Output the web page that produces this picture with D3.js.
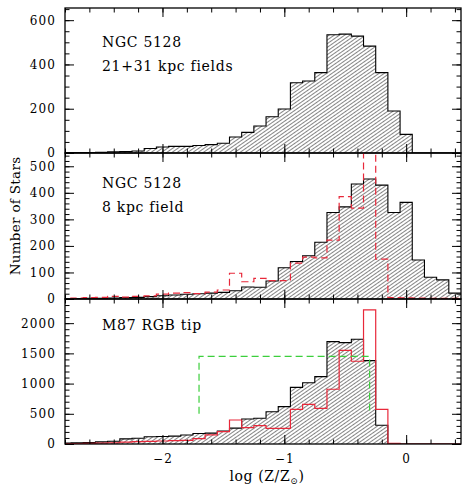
<!DOCTYPE html>
<html>
<head>
<meta charset="utf-8">
<script src="https://cdn.jsdelivr.net/npm/d3@7"></script>
<style>
  body { margin: 0; background: #fff; }
  text { font-family: "DejaVu Serif", serif; }
</style>
</head>
<body>
<svg id="chart" width="462" height="486"></svg>
<script>
// left edges of the 0.1 dex metallicity bins
const binLo = [-2.85, -2.75, -2.65, -2.55, -2.45, -2.35, -2.25, -2.15, -2.05, -1.95,
  -1.85, -1.75, -1.65, -1.55, -1.45, -1.35, -1.25, -1.15, -1.05, -0.95,
  -0.85, -0.75, -0.65, -0.55, -0.45, -0.35, -0.25, -0.15, -0.05, 0.05,
  0.15, 0.25, 0.35];
const binWidth = 0.1;

// NGC 5128, 21+31 kpc fields
const outerFields = [2, 2, 2, 3, 5, 6, 9, 20, 27, 30, 30, 34, 38, 44, 72, 93, 122, 164, 199, 317,
  325, 363, 534, 537, 528, 483, 363, 190, 84, 0, 0, 0, 0];
// NGC 5128, 8 kpc field
const innerField = [1, 2, 3, 3, 4, 5, 6, 9, 12, 15, 18, 20, 22, 25, 31, 45, 44, 68, 118, 141,
  163, 214, 326, 347, 433, 452, 429, 326, 364, 147, 82, 72, 22];
const innerDashed = [2, 3, 5, 6, 10, 7, 10, 12, 18, 22, 24, 20, 26, 34, 97, 65, 78, 69, 69, 135,
  158, 155, 222, 386, 342, 700, 150, 5, 4, 3, 2, 2, 2];
// M87 RGB tip
const m87Stars = [15, 20, 25, 35, 45, 85, 95, 120, 125, 130, 150, 175, 180, 215, 262, 414, 425, 535, 618, 938,
  1015, 1115, 1694, 1678, 1733, 1380, 310, 8, 0, 0, 0, 0, 0];
const m87Red = [5, 8, 10, 15, 20, 30, 40, 45, 50, 55, 60, 90, 150, 205, 397, 270, 303, 259, 259, 574,
  657, 591, 906, 1550, 1370, 2220, 574, 12, 0, 0, 0, 0, 0];
// flat model box
const flatX = [-1.7, -1.7, -0.3, -0.3];
const flatY = [500, 1450, 1450, 500];

const xMajor = [-2, -1, 0];
const p1Major = [0, 200, 400, 600];
const p2Major = [0, 100, 200, 300, 400, 500];
const p3Major = [0, 500, 1000, 1500, 2000];

const svg = d3.select("#chart");
const left = 65, right = 461;
const x = d3.scaleLinear().domain([-2.8, 0.45]).range([left, right]);
const xMinor = d3.range(-2.8, 0.41, 0.2);

// hatch pattern
const defs = svg.append("defs");
const pat = defs.append("pattern")
  .attr("id", "hatch")
  .attr("patternUnits", "userSpaceOnUse")
  .attr("width", 10).attr("height", 3)
  .attr("patternTransform", "rotate(-35)");
pat.append("line")
  .attr("x1", 0).attr("y1", 1.5).attr("x2", 10).attr("y2", 1.5)
  .attr("stroke", "#333").attr("stroke-width", 0.6);

const panels = [
  { top: 8, bottom: 153, ymax: 655, major: p1Major, minor: 50, hist: outerFields,
    labels: ["NGC 5128", "21+31 kpc fields"], labelY: [47, 71] },
  { top: 153, bottom: 299, ymax: 550, major: p2Major, minor: 20, hist: innerField,
    red: innerDashed, dashed: true,
    labels: ["NGC 5128", "8 kpc field"], labelY: [188, 212] },
  { top: 299, bottom: 444, ymax: 2400, major: p3Major, minor: 100, hist: m87Stars,
    red: m87Red, box: true,
    labels: ["M87 RGB tip"], labelY: [330] }
];

function stepPoints(vals) {
  const pts = binLo.map((b, i) => [b, vals[i]]);
  pts.push([binLo[binLo.length - 1] + binWidth, vals[vals.length - 1]]);
  return pts;
}

function styleAxis(g) {
  g.select(".domain").remove();
  g.selectAll(".tick line").attr("stroke", "#000").attr("stroke-width", 1);
  g.selectAll("text").attr("font-family", "DejaVu Serif, serif")
    .attr("font-size", 12).attr("fill", "#000").attr("letter-spacing", 1.1);
}

panels.forEach((p, i) => {
  const y = d3.scaleLinear().domain([0, p.ymax]).range([p.bottom, p.top]);
  const clipId = "clip" + i;
  defs.append("clipPath").attr("id", clipId)
    .append("rect").attr("x", left).attr("y", p.top)
    .attr("width", right - left).attr("height", p.bottom - p.top);

  const g = svg.append("g").attr("clip-path", `url(#${clipId})`);
  const area = d3.area().x(d => x(d[0])).y0(y(0)).y1(d => y(d[1])).curve(d3.curveStepAfter);
  const line = d3.line().x(d => x(d[0])).y(d => y(d[1])).curve(d3.curveStepAfter);

  g.append("path").attr("d", area(stepPoints(p.hist))).attr("fill", "url(#hatch)");
  g.append("path").attr("d", line(stepPoints(p.hist)))
    .attr("fill", "none").attr("stroke", "#000").attr("stroke-width", 1.1);

  if (p.red) {
    g.append("path").attr("d", line(stepPoints(p.red)))
      .attr("fill", "none").attr("stroke", "#e8283a").attr("stroke-width", 1.2)
      .attr("stroke-dasharray", p.dashed ? "7,4" : null);
  }
  if (p.box) {
    const bl = d3.line().x(d => x(d[0])).y(d => y(d[1]));
    g.append("path").attr("d", bl(flatX.map((v, k) => [v, flatY[k]])))
      .attr("fill", "none").attr("stroke", "#3ccf3c").attr("stroke-width", 1.2)
      .attr("stroke-dasharray", "7,4");
  }

  // ticks on all four sides
  const yMinor = d3.range(0, p.ymax, p.minor);
  svg.append("g").attr("transform", `translate(${left},0)`)
    .call(d3.axisLeft(y).tickValues(yMinor).tickSize(-4.5).tickFormat("")).call(styleAxis);
  svg.append("g").attr("transform", `translate(${left},0)`)
    .call(d3.axisLeft(y).tickValues(p.major).tickSize(-9).tickPadding(9).tickFormat(d3.format("d")))
    .call(styleAxis);
  svg.append("g").attr("transform", `translate(${right},0)`)
    .call(d3.axisRight(y).tickValues(yMinor).tickSize(-4.5).tickFormat("")).call(styleAxis);
  svg.append("g").attr("transform", `translate(${right},0)`)
    .call(d3.axisRight(y).tickValues(p.major).tickSize(-9).tickFormat("")).call(styleAxis);

  svg.append("g").attr("transform", `translate(0,${p.top})`)
    .call(d3.axisTop(x).tickValues(xMinor).tickSize(-4.5).tickFormat("")).call(styleAxis);
  svg.append("g").attr("transform", `translate(0,${p.top})`)
    .call(d3.axisTop(x).tickValues(xMajor).tickSize(-9).tickFormat("")).call(styleAxis);
  svg.append("g").attr("transform", `translate(0,${p.bottom})`)
    .call(d3.axisBottom(x).tickValues(xMinor).tickSize(-4.5).tickFormat("")).call(styleAxis);
  svg.append("g").attr("transform", `translate(0,${p.bottom})`)
    .call(d3.axisBottom(x).tickValues(xMajor).tickSize(-9).tickPadding(10)
      .tickFormat(i === 2 ? d3.format("d") : ""))
    .call(styleAxis);

  svg.append("rect").attr("x", left).attr("y", p.top)
    .attr("width", right - left).attr("height", p.bottom - p.top)
    .attr("fill", "none").attr("stroke", "#000").attr("stroke-width", 1.3);

  p.labels.forEach((t, k) => {
    svg.append("text").attr("x", 102).attr("y", p.labelY[k])
      .attr("font-size", 14).attr("letter-spacing", 0.7).text(t);
  });
});

svg.append("text")
  .attr("transform", "translate(20,216) rotate(-90)")
  .attr("text-anchor", "middle").attr("font-size", 13.5).attr("letter-spacing", 0.3)
  .text("Number of Stars");

const xt = svg.append("text").attr("x", 267).attr("y", 481)
  .attr("text-anchor", "middle").attr("font-size", 14).attr("letter-spacing", 0.6);
xt.append("tspan").text("log (Z/Z");
xt.append("tspan").attr("font-size", 9).attr("dy", 3).text("\u2299");
xt.append("tspan").attr("dy", -3).text(")");
</script>
</body>
</html>
